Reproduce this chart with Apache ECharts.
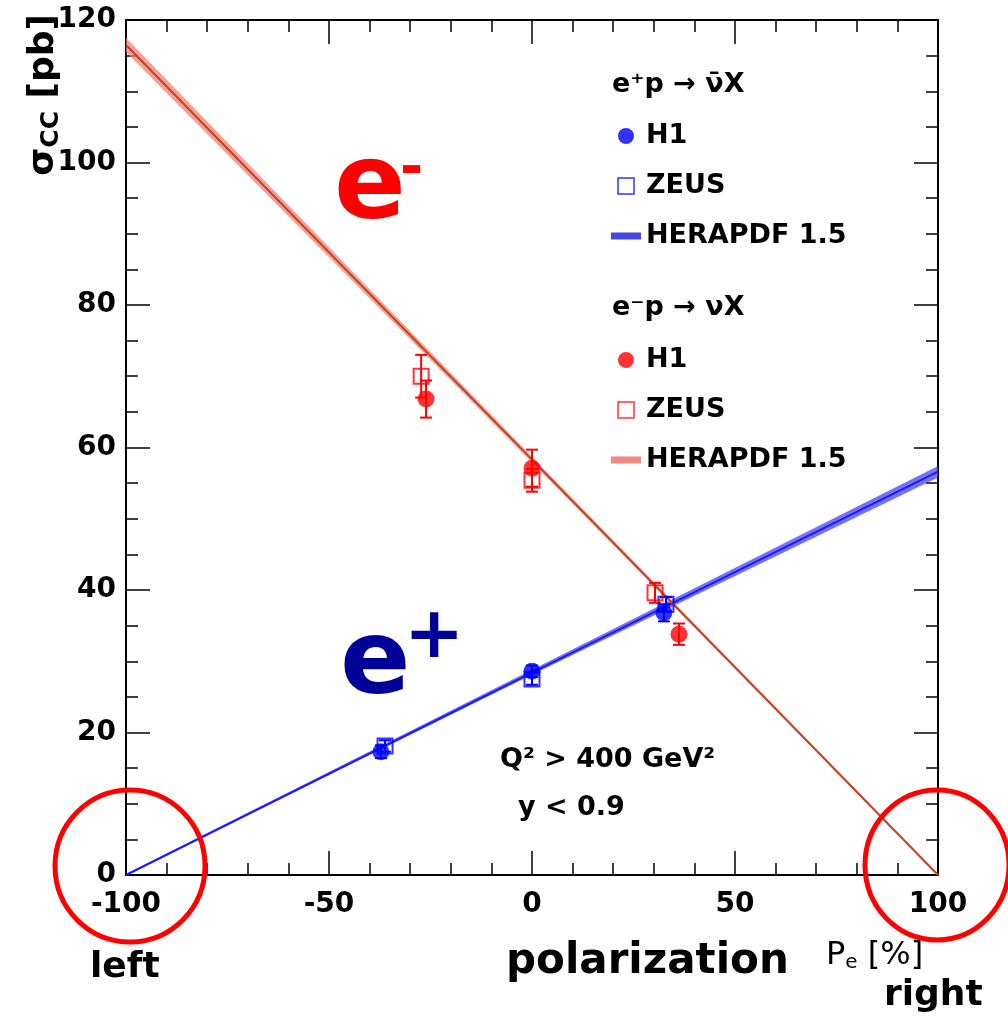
<!DOCTYPE html>
<html>
<head>
<meta charset="utf-8">
<script src="https://cdn.jsdelivr.net/npm/echarts@6/dist/echarts.min.js"></script>
<style>
html, body { margin: 0; padding: 0; background: #fff; }
#chart { width: 1008px; height: 1016px; }
</style>
</head>
<body>
<div id="chart"></div>
<script>
// HERAPDF 1.5 prediction: central value and band, sampled at Pe = -100, 0, 100
const pdfX = [-100, 0, 100];
const pdfPos = [0, 28.4, 56.6];
const pdfPosLow = [0, 28.1, 55.8];
const pdfPosHigh = [0.15, 28.8, 57.4];
const pdfNeg = [116.5, 58.3, 0];
const pdfNegLow = [115.5, 57.9, 0];
const pdfNegHigh = [117.5, 58.7, 0.15];

// e+p -> anti-nu X
const posH1X = [-37.2, 0, 32.5];
const posH1Y = [17.3, 28.6, 36.8];
const posH1Err = [0.9, 0.8, 1.2];
const posZeusX = [-36.2, 0, 33];
const posZeusY = [18.1, 27.5, 38.0];
const posZeusErr = [0.8, 0.8, 1.0];

// e-p -> nu X
const negH1X = [-26.1, 0, 36.2];
const negH1Y = [66.8, 57.1, 33.8];
const negH1Err = [2.6, 2.6, 1.5];
const negZeusX = [-27.3, 0, 30.3];
const negZeusY = [70.0, 55.4, 39.6];
const negZeusErr = [3.0, 1.6, 1.4];

const xTicks = { min: -100, max: 100, step: 50 };
const yTicks = { min: 0, max: 120, step: 20 };

const BLUE = '#0000ff';
const RED = '#ff0000';
const FONT = 'DejaVu Sans';

const pts = (xs, ys) => xs.map((x, i) => [x, ys[i]]);
const errPts = (xs, ys, es) => xs.map((x, i) => [x, ys[i], es[i]]);

function bandSeries(name, low, high, fill) {
  return {
    name: name,
    type: 'custom',
    z: 1,
    silent: true,
    data: [[0, 0]],
    renderItem: function (params, api) {
      const upper = pdfX.map((x, i) => api.coord([x, high[i]]));
      const lower = pdfX.map((x, i) => api.coord([x, low[i]])).reverse();
      return { type: 'polygon', shape: { points: upper.concat(lower) }, style: { fill: fill } };
    }
  };
}

function errorSeries(data, color) {
  return {
    type: 'custom',
    z: 3,
    silent: true,
    data: data,
    renderItem: function (params, api) {
      const x = api.value(0), y = api.value(1), e = api.value(2);
      const top = api.coord([x, y + e]);
      const bot = api.coord([x, y - e]);
      const st = { stroke: color, lineWidth: 2 };
      return {
        type: 'group',
        children: [
          { type: 'line', shape: { x1: top[0], y1: top[1], x2: bot[0], y2: bot[1] }, style: st },
          { type: 'line', shape: { x1: top[0] - 6, y1: top[1], x2: top[0] + 6, y2: top[1] }, style: st },
          { type: 'line', shape: { x1: bot[0] - 6, y1: bot[1], x2: bot[0] + 6, y2: bot[1] }, style: st }
        ]
      };
    }
  };
}

function h1Series(name, data, color) {
  return { name: name, type: 'scatter', z: 5, symbol: 'circle', symbolSize: 17, itemStyle: { color: color }, data: data };
}
function zeusSeries(name, data, color) {
  return {
    name: name, type: 'scatter', z: 4, symbol: 'rect', symbolSize: 15,
    itemStyle: { color: 'rgba(255,255,255,0)', borderColor: color, borderWidth: 2 }, data: data
  };
}
function pdfLine(name, data, color) {
  return { name: name, type: 'line', z: 2, showSymbol: false, silent: true, lineStyle: { color: color, width: 2 }, itemStyle: { color: color }, data: data };
}

const tickStyle = { color: '#000', width: 1.5 };
function makeX(position, showLabel) {
  return {
    type: 'value', position: position, min: xTicks.min, max: xTicks.max, interval: xTicks.step,
    axisLine: { show: true, onZero: false, lineStyle: { color: '#000', width: 2 } },
    axisTick: { show: true, inside: true, length: 24, lineStyle: tickStyle },
    minorTick: { show: true, splitNumber: 5, length: 12, lineStyle: tickStyle },
    axisLabel: { show: showLabel, color: '#000', fontFamily: FONT, fontWeight: 'bold', fontSize: 28, margin: 16 },
    splitLine: { show: false }
  };
}
function makeY(position, showLabel) {
  return {
    type: 'value', position: position, min: yTicks.min, max: yTicks.max, interval: yTicks.step,
    axisLine: { show: true, onZero: false, lineStyle: { color: '#000', width: 2 } },
    axisTick: { show: true, inside: true, length: 24, lineStyle: tickStyle },
    minorTick: { show: true, splitNumber: 4, length: 12, lineStyle: tickStyle },
    axisLabel: { show: showLabel, color: '#000', fontFamily: FONT, fontWeight: 'bold', fontSize: 28, margin: 10 },
    splitLine: { show: false }
  };
}

function makeLegend(top, tag, color, bandColor) {
  return {
    orient: 'vertical', left: 606, top: top, itemGap: 20, itemWidth: 30, itemHeight: 16,
    selectedMode: false,
    textStyle: { color: '#000', fontFamily: FONT, fontWeight: 'bold', fontSize: 27, lineHeight: 30 },
    formatter: function (name) { return name.replace(/ \(.*\)$/, ''); },
    data: [
      { name: 'H1 (' + tag + ')', icon: 'circle', itemStyle: { color: color } },
      { name: 'ZEUS (' + tag + ')', icon: 'path://M0,0h10v10h-10z', itemStyle: { color: 'rgba(255,255,255,0)', borderColor: color, borderWidth: 1.5 } },
      { name: 'HERAPDF 1.5 (' + tag + ')', icon: 'path://M0,0h30v7h-30z', itemStyle: { color: bandColor } }
    ]
  };
}

const option = {
  backgroundColor: '#fff',
  animation: false,
  grid: { left: 126, right: 70, top: 20, bottom: 141 },
  xAxis: [makeX('bottom', true), makeX('top', false)],
  yAxis: [makeY('left', true), makeY('right', false)],
  legend: [makeLegend(116, 'e+p', BLUE, '#4646e6'), makeLegend(340, 'e-p', RED, '#ee8a80')],
  series: [
    bandSeries('band e+p', pdfPosLow, pdfPosHigh, 'rgba(70,70,235,0.75)'),
    bandSeries('band e-p', pdfNegLow, pdfNegHigh, 'rgba(238,130,120,0.75)'),
    pdfLine('HERAPDF 1.5 (e+p)', pts(pdfX, pdfPos), '#1a1aff'),
    pdfLine('HERAPDF 1.5 (e-p)', pts(pdfX, pdfNeg), '#c8401e'),
    errorSeries(errPts(posH1X, posH1Y, posH1Err), BLUE),
    errorSeries(errPts(posZeusX, posZeusY, posZeusErr), BLUE),
    errorSeries(errPts(negH1X, negH1Y, negH1Err), RED),
    errorSeries(errPts(negZeusX, negZeusY, negZeusErr), RED),
    zeusSeries('ZEUS (e+p)', pts(posZeusX, posZeusY), BLUE),
    h1Series('H1 (e+p)', pts(posH1X, posH1Y), BLUE),
    zeusSeries('ZEUS (e-p)', pts(negZeusX, negZeusY), RED),
    h1Series('H1 (e-p)', pts(negH1X, negH1Y), RED)
  ]
};

const chart = echarts.init(document.getElementById('chart'));
chart.setOption(option);

// annotation circles around the two fully polarised ends
const leftEnd = chart.convertToPixel({ gridIndex: 0 }, [xTicks.min, 0]);
const rightEnd = chart.convertToPixel({ gridIndex: 0 }, [xTicks.max, 0]);

function txt(x, y, text, size, opts) {
  return {
    type: 'text', x: x, y: y, z: 20,
    style: Object.assign({
      text: text, fill: '#000', font: 'bold ' + size + 'px "' + FONT + '"',
      align: 'left', verticalAlign: 'middle'
    }, opts || {})
  };
}

chart.setOption({
  graphic: [
    { type: 'ellipse', z: 30, shape: { cx: leftEnd[0] + 4, cy: leftEnd[1] - 9, rx: 75, ry: 76 }, style: { fill: 'none', stroke: RED, lineWidth: 5 } },
    { type: 'ellipse', z: 30, shape: { cx: rightEnd[0] - 1, cy: rightEnd[1] - 10, rx: 72, ry: 75 }, style: { fill: 'none', stroke: RED, lineWidth: 5 } },
    txt(612, 85, 'e\u207Ap \u2192 \u03BD\u0304X', 27),
    txt(612, 308, 'e\u207Bp \u2192 \u03BDX', 27),
    txt(500, 760, 'Q\u00B2 > 400 GeV\u00B2', 27),
    txt(518, 808, 'y < 0.9', 27),
    txt(334, 190, 'e', 106, { fill: RED }),
    txt(400, 170, '-', 56, { fill: RED }),
    txt(340, 666, 'e', 104, { fill: '#000099' }),
    txt(404, 638, '+', 72, { fill: '#000099' }),
    {
      type: 'text', x: 44, y: 14, z: 20, rotation: Math.PI / 2,
      style: {
        text: '{a|\u03C3}{b|CC}{a| [pb]}', align: 'right', verticalAlign: 'middle',
        rich: {
          a: { fontFamily: FONT, fontWeight: 'bold', fontSize: 36, fill: '#000' },
          b: { fontFamily: FONT, fontWeight: 'bold', fontSize: 25, fill: '#000', padding: [14, 0, 0, 0] }
        }
      }
    },
    {
      type: 'text', x: 826, y: 956, z: 20,
      style: {
        text: '{a|P}{b|e}{a| [%]}', align: 'left', verticalAlign: 'middle',
        rich: {
          a: { fontFamily: FONT, fontSize: 32, fill: '#000' },
          b: { fontFamily: FONT, fontSize: 20, fill: '#000', padding: [14, 0, 0, 0] }
        }
      }
    },
    txt(506, 962, 'polarization', 42, { font: 'bold 42px "Comic Sans MS", "DejaVu Sans"' }),
    txt(90, 968, 'left', 36, { font: 'bold 36px "Comic Sans MS", "DejaVu Sans"' }),
    txt(884, 996, 'right', 36, { font: 'bold 36px "Comic Sans MS", "DejaVu Sans"' })
  ]
});
</script>
</body>
</html>
